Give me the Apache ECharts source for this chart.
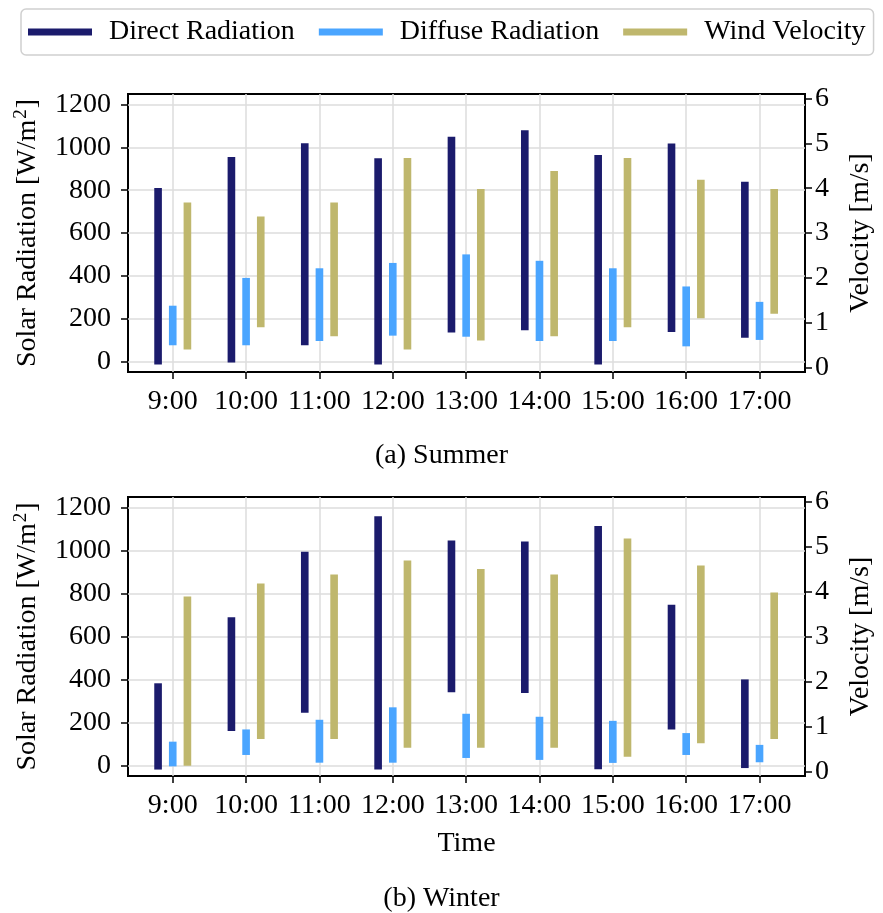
<!DOCTYPE html>
<html>
<head>
<meta charset="utf-8">
<script src="https://cdn.jsdelivr.net/npm/echarts@6/dist/echarts.min.js"></script>
<style>html,body{margin:0;padding:0;background:#fff;}#c{width:883px;height:913px;}</style>
</head>
<body>
<div id="c"></div>
<script>
const categories = ['9:00','10:00','11:00','12:00','13:00','14:00','15:00','16:00','17:00'];
const radTicks = [0,200,400,600,800,1000,1200];
const velTicks = [0,1,2,3,4,5,6];

// Summer: [low, high]
const summerDirect  = [[-15,810],[-5,955],[75,1020],[-15,950],[135,1050],[145,1080],[-15,965],[137,1018],[110,840]];
const summerDiffuse = [[75,260],[75,390],[95,435],[120,460],[115,500],[95,470],[95,435],[70,350],[100,278]];
const summerWind    = [[0.4,3.68],[0.9,3.37],[0.7,3.68],[0.4,4.67],[0.6,3.98],[0.7,4.38],[0.9,4.67],[1.1,4.19],[1.2,3.98]];
// Winter
const winterDirect  = [[-20,382],[160,690],[245,995],[-20,1160],[340,1047],[337,1043],[-19,1115],[167,748],[-13,400]];
const winterDiffuse = [[-5,110],[48,167],[12,212],[12,270],[34,240],[25,226],[11,207],[48,150],[14,95]];
const winterWind    = [[0.13,3.89],[0.72,4.18],[0.72,4.38],[0.53,4.69],[0.53,4.5],[0.53,4.38],[0.33,5.18],[0.63,4.58],[0.72,3.98]];

const FONT = 'Liberation Serif';
const FS = 28;
const C_DIRECT = '#1b1b6c', C_DIFFUSE = '#4aa5ff', C_WIND = '#bfb76d';

function rangeSeries(name, arr, grid, yIdx, offset, color) {
  return {
    name: name, type: 'custom',
    xAxisIndex: grid, yAxisIndex: yIdx,
    itemStyle: {color: color},
    data: arr.map((d, i) => [i, d[0], d[1]]),
    renderItem: function (params, api) {
      const x = api.value(0) + offset;
      const p1 = api.coord([x, api.value(1)]);
      const p2 = api.coord([x, api.value(2)]);
      const w = api.size([0.104, 0])[0];
      return {type: 'rect', shape: {x: p1[0] - w / 2, y: p2[1], width: w, height: p1[1] - p2[1]},
        style: {fill: color}};
    }
  };
}

function xAxisFor(gi, withName) {
  const ax = {
    type: 'value', gridIndex: gi, min: -0.61, max: 8.62, position: 'bottom',
    axisLine: {show: false, onZero: false},
    axisTick: {show: true, length: 7, lineStyle: {color: '#000', width: 1.5}, customValues: categories.map((c, i) => i)},
    axisLabel: {fontFamily: FONT, fontSize: FS, color: '#000', margin: 16,
      customValues: categories.map((c, i) => i), formatter: v => categories[Math.round(v)]},
    splitLine: {show: true, lineStyle: {color: '#dcdcdc', width: 1.5}}
  };
  if (withName) {
    ax.name = 'Time'; ax.nameLocation = 'middle'; ax.nameGap = 54;
    ax.nameTextStyle = {fontFamily: FONT, fontSize: FS, color: '#000'};
  }
  return ax;
}
function leftAxis(gi) {
  return {
    type: 'value', gridIndex: gi, min: -50, max: 1250, position: 'left',
    name: '{a|Solar Radiation [W/m}{s|2}{a|]}', nameLocation: 'middle', nameGap: 86,
    nameTextStyle: {rich: {
      a: {fontFamily: FONT, fontSize: FS, color: '#000', lineHeight: 30, verticalAlign: 'bottom'},
      s: {fontFamily: FONT, fontSize: 19, color: '#000', lineHeight: 30, verticalAlign: 'top', padding: [0, 1, 0, 1]}
    }},
    axisLine: {show: false, onZero: false},
    axisTick: {show: true, length: 7, lineStyle: {color: '#000', width: 1.5}, customValues: radTicks},
    axisLabel: {fontFamily: FONT, fontSize: FS, color: '#000', margin: 17, customValues: radTicks,
      formatter: v => String(v)},
    splitLine: {show: true, lineStyle: {color: '#dcdcdc', width: 1.5}}
  };
}
function rightAxis(gi) {
  return {
    type: 'value', gridIndex: gi, min: -0.1, max: 6.1, position: 'right',
    name: 'Velocity [m/s]', nameLocation: 'middle', nameGap: 42,
    nameTextStyle: {fontFamily: FONT, fontSize: FS, color: '#000'},
    axisLine: {show: false, onZero: false},
    axisTick: {show: true, length: 7, lineStyle: {color: '#000', width: 1.5}, customValues: velTicks},
    axisLabel: {fontFamily: FONT, fontSize: FS, color: '#000', margin: 10, customValues: velTicks,
      formatter: v => String(v)},
    splitLine: {show: false}
  };
}

const chart = echarts.init(document.getElementById('c'), null, {renderer: 'canvas'});
chart.setOption({
  animation: false,
  backgroundColor: '#fff',
  legend: {
    left: 21, top: 9, orient: 'horizontal',
    data: ['Direct Radiation', 'Diffuse Radiation', 'Wind Velocity'],
    icon: 'rect', itemWidth: 64, itemHeight: 7, itemGap: 24,
    padding: [9, 8, 9, 7],
    borderColor: '#d0d0d0', borderWidth: 1.5, borderRadius: 5,
    textStyle: {fontFamily: FONT, fontSize: FS, color: '#000', padding: [0, 0, 0, 12]}
  },
  grid: [
    {left: 128, right: 71, top: 94, height: 278, show: true, borderColor: '#000', borderWidth: 2, backgroundColor: 'transparent'},
    {left: 128, right: 71, top: 497, height: 279, show: true, borderColor: '#000', borderWidth: 2, backgroundColor: 'transparent'}
  ],
  xAxis: [xAxisFor(0, false), xAxisFor(1, true)],
  yAxis: [leftAxis(0), rightAxis(0), leftAxis(1), rightAxis(1)],
  graphic: [
    {type: 'text', left: 'center', top: 442, style: {text: '(a) Summer', fontFamily: FONT, fontSize: FS, fill: '#000'}},
    {type: 'text', left: 'center', top: 885, style: {text: '(b) Winter', fontFamily: FONT, fontSize: FS, fill: '#000'}}
  ],
  series: [
    rangeSeries('Direct Radiation', summerDirect, 0, 0, -0.2, C_DIRECT),
    rangeSeries('Diffuse Radiation', summerDiffuse, 0, 0, 0, C_DIFFUSE),
    rangeSeries('Wind Velocity', summerWind, 0, 1, 0.2, C_WIND),
    rangeSeries('Direct Radiation', winterDirect, 1, 2, -0.2, C_DIRECT),
    rangeSeries('Diffuse Radiation', winterDiffuse, 1, 2, 0, C_DIFFUSE),
    rangeSeries('Wind Velocity', winterWind, 1, 3, 0.2, C_WIND)
  ]
});
</script>
</body>
</html>
